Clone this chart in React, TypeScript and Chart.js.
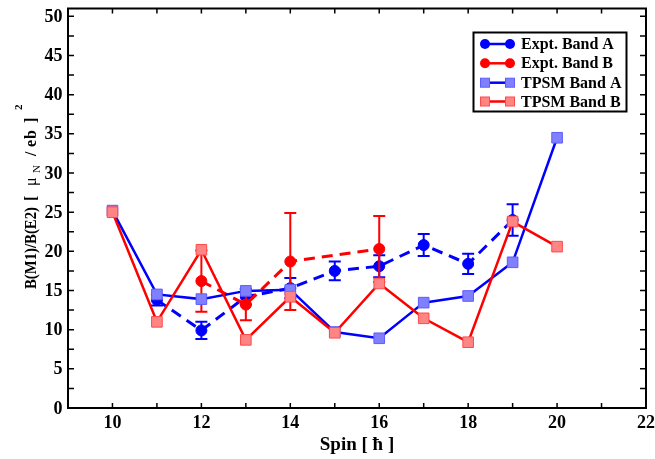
import React, { useEffect, useRef } from "react";
import { Chart, registerables } from "chart.js";

Chart.register(...registerables);

// ---- data ----
const spinsTPSM = [10, 11, 12, 13, 14, 15, 16, 17, 18, 19, 20];
const tpsmBandA = [25.2, 14.5, 13.9, 14.95, 15.1, 9.7, 8.9, 13.45, 14.3, 18.6, 34.5];
const tpsmBandB = [25.0, 11.0, 20.2, 8.7, 14.2, 9.6, 15.9, 11.45, 8.4, 23.8, 20.6];

const spinsExptA = [11, 12, 13, 14, 15, 16, 17, 18, 19];
const exptBandA = [13.8, 9.9, 14.2, 15.3, 17.5, 18.1, 20.8, 18.4, 24.0];
const exptBandAErr = [0.7, 1.1, 1.0, 1.3, 1.2, 1.4, 1.4, 1.3, 2.0];

const spinsExptB = [12, 13, 14, 16];
const exptBandB = [16.2, 13.2, 18.7, 20.3];
const exptBandBErr = [3.9, 2.0, 6.2, 4.2];

const xTickLabels = [10, 12, 14, 16, 18, 20, 22];
const yTickLabels = [0, 5, 10, 15, 20, 25, 30, 35, 40, 45, 50];
const legendLabels = ["Expt. Band A", "Expt. Band B", "TPSM Band A", "TPSM Band B"];

const SERIF = '"Liberation Serif", "Times New Roman", serif';
const BLUE = "#0000ff";
const RED = "#ff0000";
const BLUE_FILL = "#8080ff";
const BLUE_EDGE = "#5c5cff";
const RED_FILL = "#ff8585";
const RED_EDGE = "#ff4a4a";

const toPts = (xs: number[], ys: number[]) => xs.map((x, i) => ({ x, y: ys[i] }));

function rotText(ctx: CanvasRenderingContext2D, text: string, x: number, yBottom: number, font: string, maxW?: number) {
  ctx.save();
  ctx.translate(x, yBottom);
  ctx.rotate(-Math.PI / 2);
  ctx.font = font;
  ctx.textAlign = "left";
  ctx.textBaseline = "alphabetic";
  if (maxW) ctx.fillText(text, 0, 0, maxW);
  else ctx.fillText(text, 0, 0);
  ctx.restore();
}

const errorSets: Record<string, { err: number[]; color: string }> = {
  "Expt. Band A": { err: exptBandAErr, color: BLUE },
  "Expt. Band B": { err: exptBandBErr, color: RED },
};

const customPlugin = {
  id: "customDecor",
  beforeDatasetDraw(chart: any, args: any) {
    const ds = chart.data.datasets[args.index];
    const es = errorSets[ds.label];
    if (!es) return;
    const ctx = chart.ctx as CanvasRenderingContext2D;
    const xs = chart.scales.x;
    const ys = chart.scales.y;
    ctx.save();
    ctx.strokeStyle = es.color;
    ctx.lineWidth = 2;
    ds.data.forEach((p: any, i: number) => {
      const px = xs.getPixelForValue(p.x);
      const yt = ys.getPixelForValue(p.y + es.err[i]);
      const yb = ys.getPixelForValue(p.y - es.err[i]);
      ctx.beginPath();
      ctx.moveTo(px, yt);
      ctx.lineTo(px, yb);
      ctx.moveTo(px - 6, yt);
      ctx.lineTo(px + 6, yt);
      ctx.moveTo(px - 6, yb);
      ctx.lineTo(px + 6, yb);
      ctx.stroke();
    });
    ctx.restore();
  },
  afterDraw(chart: any) {
    const ctx = chart.ctx as CanvasRenderingContext2D;
    const a = chart.chartArea;
    const xs = chart.scales.x;
    const ys = chart.scales.y;
    ctx.save();
    // frame
    ctx.strokeStyle = "#000";
    ctx.lineWidth = 2;
    ctx.strokeRect(a.left, a.top, a.right - a.left, a.bottom - a.top);
    // ticks (inward, all sides)
    ctx.lineWidth = 1.5;
    ctx.beginPath();
    for (let v = 10; v < 22; v += 1) {
      const px = xs.getPixelForValue(v);
      ctx.moveTo(px, a.bottom);
      ctx.lineTo(px, a.bottom - 5);
      ctx.moveTo(px, a.top);
      ctx.lineTo(px, a.top + 5);
    }
    for (let v = 0; v <= 50; v += 2.5) {
      const py = ys.getPixelForValue(v);
      ctx.moveTo(a.left, py);
      ctx.lineTo(a.left + 6, py);
      ctx.moveTo(a.right, py);
      ctx.lineTo(a.right - 6, py);
    }
    ctx.stroke();
    // tick labels
    ctx.fillStyle = "#000";
    ctx.font = `bold 18px ${SERIF}`;
    ctx.textAlign = "right";
    ctx.textBaseline = "middle";
    yTickLabels.forEach((v) => {
      ctx.fillText(String(v), a.left - 5.5, ys.getPixelForValue(v) + 1);
    });
    ctx.textAlign = "center";
    ctx.textBaseline = "alphabetic";
    xTickLabels.forEach((v) => {
      ctx.fillText(String(v), xs.getPixelForValue(v), 428);
    });
    // x title
    ctx.font = `bold 19px ${SERIF}`;
    ctx.fillText("Spin [ \u0127 ]", (a.left + a.right) / 2, 450);
    // y title
    const yf = `bold 16px ${SERIF}`;
    rotText(ctx, "B(M1)/B(E2)", 36, 289, yf, 82);
    rotText(ctx, "[", 36, 201, yf);
    rotText(ctx, "\u03bc", 36, 186, `16px ${SERIF}`);
    rotText(ctx, "N", 39.5, 173, `11px ${SERIF}`);
    rotText(ctx, "/", 36, 156, yf);
    rotText(ctx, "e", 36, 147, yf);
    rotText(ctx, "b", 36, 139, yf);
    rotText(ctx, "]", 36, 123, yf);
    rotText(ctx, "2", 22, 110, `bold 11px ${SERIF}`);

    // legend
    const lx = 473.5, ly = 32.5, lw = 153, lh = 79;
    ctx.fillStyle = "#fff";
    ctx.fillRect(lx, ly, lw, lh);
    ctx.strokeStyle = "#000";
    ctx.lineWidth = 2;
    ctx.strokeRect(lx, ly, lw, lh);
    const rows = [44, 63.3, 82.7, 101.5];
    rows.forEach((ry, i) => {
      const isBlue = i % 2 === 0;
      const isSquare = i >= 2;
      const lineCol = isBlue ? BLUE : RED;
      ctx.strokeStyle = lineCol;
      ctx.lineWidth = 2.5;
      ctx.beginPath();
      ctx.moveTo(485, ry);
      ctx.lineTo(510, ry);
      ctx.stroke();
      [485, 510].forEach((mx) => {
        if (isSquare) {
          ctx.fillStyle = isBlue ? BLUE_FILL : RED_FILL;
          ctx.strokeStyle = isBlue ? BLUE_EDGE : RED_EDGE;
          ctx.lineWidth = 1;
          ctx.fillRect(mx - 4.5, ry - 4.5, 9, 9);
          ctx.strokeRect(mx - 4.5, ry - 4.5, 9, 9);
        } else {
          ctx.fillStyle = lineCol;
          ctx.beginPath();
          ctx.arc(mx, ry, 5, 0, Math.PI * 2);
          ctx.fill();
        }
      });
      ctx.fillStyle = "#000";
      ctx.font = `bold 16px ${SERIF}`;
      ctx.textAlign = "left";
      ctx.textBaseline = "middle";
      ctx.fillText(legendLabels[i], 521, ry + 1);
    });
    ctx.restore();
  },
};

export default function App() {
  const ref = useRef<HTMLCanvasElement | null>(null);
  useEffect(() => {
    if (!ref.current) return;
    const chart = new Chart(ref.current, {
      type: "line",
      data: {
        datasets: [
          {
            label: "TPSM Band B",
            data: toPts(spinsTPSM, tpsmBandB),
            borderColor: RED,
            borderWidth: 2.5,
            pointStyle: "rect",
            pointRadius: 7.5,
            pointBackgroundColor: RED_FILL,
            pointBorderColor: RED_EDGE,
            pointBorderWidth: 1,
            fill: false,
            tension: 0,
          },
          {
            label: "TPSM Band A",
            data: toPts(spinsTPSM, tpsmBandA),
            borderColor: BLUE,
            borderWidth: 2.5,
            pointStyle: "rect",
            pointRadius: 7.5,
            pointBackgroundColor: BLUE_FILL,
            pointBorderColor: BLUE_EDGE,
            pointBorderWidth: 1,
            fill: false,
            tension: 0,
          },
          {
            label: "Expt. Band B",
            data: toPts(spinsExptB, exptBandB),
            borderColor: RED,
            borderWidth: 3,
            borderDash: [11, 7],
            pointStyle: "circle",
            pointRadius: 5.5,
            pointBackgroundColor: RED,
            pointBorderColor: RED,
            pointBorderWidth: 1,
            fill: false,
            tension: 0,
          },
          {
            label: "Expt. Band A",
            data: toPts(spinsExptA, exptBandA),
            borderColor: BLUE,
            borderWidth: 3,
            borderDash: [11, 7],
            pointStyle: "circle",
            pointRadius: 5.5,
            pointBackgroundColor: BLUE,
            pointBorderColor: BLUE,
            pointBorderWidth: 1,
            fill: false,
            tension: 0,
          },
        ],
      },
      options: {
        animation: false,
        responsive: false,
        maintainAspectRatio: false,
        layout: { padding: { left: 68, right: 9, top: 3, bottom: 51 } },
        plugins: { legend: { display: false }, tooltip: { enabled: false } },
        scales: {
          x: { type: "linear", min: 9, max: 22, display: false },
          y: { type: "linear", min: 0, max: 51, display: false },
        },
      },
      plugins: [customPlugin],
    });
    return () => chart.destroy();
  }, []);
  return (
    <div style={{ position: "absolute", left: 0, top: 0, width: 655, height: 459 }}>
      <canvas ref={ref} width={655} height={459} style={{ display: "block" }} />
    </div>
  );
}
